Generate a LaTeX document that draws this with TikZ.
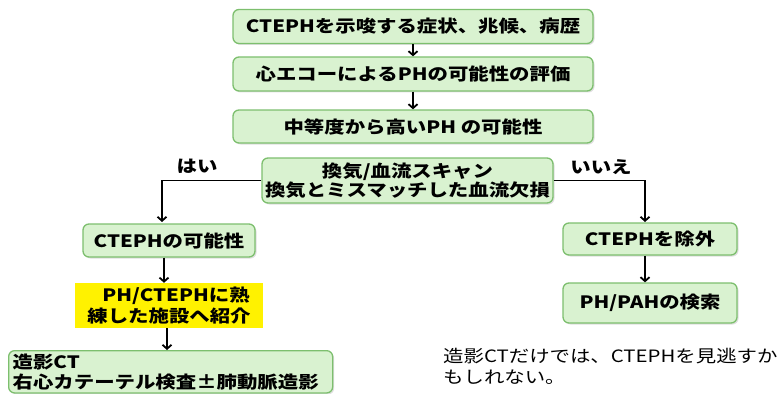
\documentclass[tikz,border=0pt]{standalone}
\usepackage{fontspec}
\setmainfont{Noto Sans CJK JP}[FakeStretch=1.2]
\usetikzlibrary{arrows.meta,shadows}
\definecolor{boxfill}{RGB}{217,242,208}
\definecolor{boxline}{RGB}{125,191,110}
\tikzset{
  gbox/.style={draw=boxline, fill=boxfill, line width=1.3pt, rounded corners=6pt,
    font=\fontsize{17}{20}\selectfont\bfseries, inner sep=2pt,
    drop shadow={opacity=0.25, shadow xshift=1.5pt, shadow yshift=-1.5pt}},
  ybox/.style={fill=yellow, draw=none, font=\fontsize{17}{21}\selectfont\bfseries, inner sep=2pt},
  arr/.style={line width=1.8pt, -{Straight Barb[length=4pt,width=9pt,line width=1.8pt]}},
  lbl/.style={font=\fontsize{17}{20}\selectfont\bfseries, inner sep=0pt},
  note/.style={font=\fontsize{17}{21}\selectfont, inner sep=0pt, align=left, anchor=north west},
}
\begin{document}
\begin{tikzpicture}[x=1pt,y=-1pt]
\useasboundingbox (0,0) rectangle (783,393);
\node[gbox, minimum width=360pt, minimum height=34pt] (b1) at (413,26.5) {CTEPHを示唆する症状、兆候、病歴};
\node[gbox, minimum width=360pt, minimum height=34pt] (b2) at (413,74) {心エコーによるPHの可能性の評価};
\node[gbox, minimum width=360pt, minimum height=33pt] (b3) at (413,126.5) {中等度から高いPH の可能性};
\node[gbox, minimum width=291pt, minimum height=45pt, align=center, font=\fontsize{17}{19}\selectfont\bfseries] (b4) at (407.5,180.5) {換気/血流スキャン\\換気とミスマッチした血流欠損};
\node[gbox, minimum width=172pt, minimum height=33pt] (c1) at (169,240.5) {CTEPHの可能性};
\node[ybox, minimum width=188pt, minimum height=45pt, align=left] (c2) at (169,305.5) {\hspace{15pt}PH/CTEPHに熟\\練した施設へ紹介};
\node[gbox, anchor=north west, minimum width=324pt, align=left, text width=316pt, inner xsep=4pt, inner ysep=3pt, font=\fontsize{17}{20}\selectfont\bfseries] (c3) at (8,350) {造影CT\\右心カテーテル検査±肺動脈造影};
\node[gbox, minimum width=174pt, minimum height=32pt] (d1) at (650,239) {CTEPHを除外};
\node[gbox, minimum width=174pt, minimum height=40pt] (d2) at (650,303) {PH/PAHの検索};
\node[lbl] (yes) at (197,166) {はい};
\node[lbl] (no) at (601,167) {いいえ};
\node[note] (n1) at (443,348) {造影CTだけでは、CTEPHを見逃すか\\もしれない。};
\coordinate (lc) at (162,222);
\coordinate (rc) at (645,222);
\draw[arr] (b1) -- (b2);
\draw[arr] (b2) -- (b3);
\draw[arr] (b4.west) -| (lc);
\draw[arr] (b4.east) -| (rc);
\draw[arr] (c1.south -| 164,0) -- (c2.north -| 164,0);
\draw[arr] (c2.south -| 167,0) -- (c3.north -| 167,0);
\draw[arr] (d1.south -| 645,0) -- (d2.north -| 645,0);
\end{tikzpicture}
\end{document}
